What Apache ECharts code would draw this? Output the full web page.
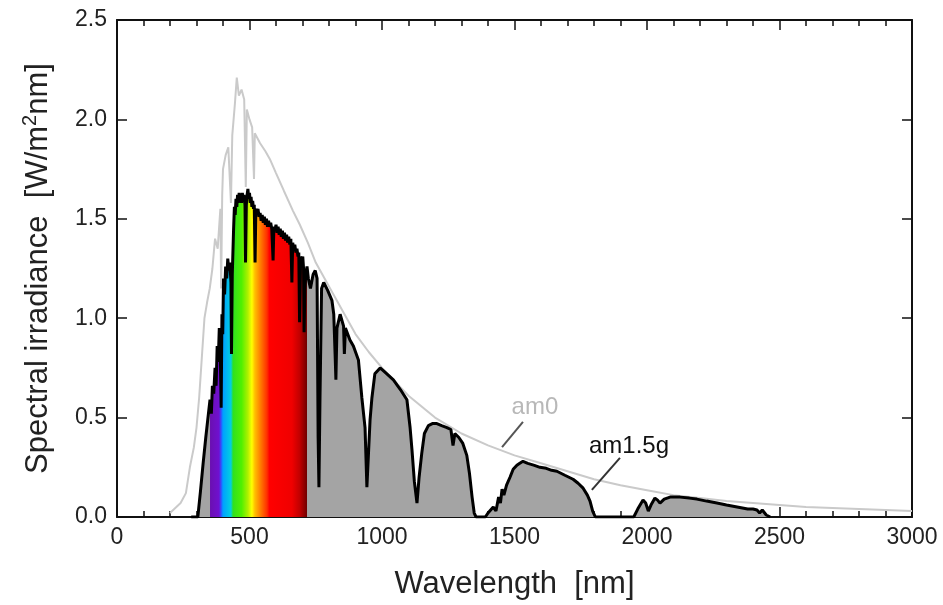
<!DOCTYPE html>
<html><head><meta charset="utf-8">
<script src="https://cdn.jsdelivr.net/npm/echarts@6/dist/echarts.min.js"></script>
<style>html,body{margin:0;padding:0;background:#fff}#c{width:943px;height:605px}</style>
</head><body><div id="c"></div>
<script>
// ---- Data (wavelength nm, spectral irradiance W/m^2/nm) ----
const am0 = [
  [200,0.02],[240,0.07],[260,0.12],[275,0.25],[290,0.35],[300,0.45],[310,0.60],[320,0.80],[330,1.00],[340,1.08],
  [350,1.15],[360,1.25],[370,1.40],[380,1.35],[390,1.55],[393,1.15],[397,1.62],[400,1.75],[410,1.82],[420,1.86],
  [430,1.58],[435,1.92],[445,2.08],[452,2.21],[460,2.12],[470,2.15],[480,2.10],[486,1.66],[490,2.05],[500,2.00],
  [510,1.96],[517,1.70],[520,1.93],[540,1.88],[560,1.84],[577,1.80],[600,1.73],[630,1.64],[664,1.54],[690,1.47],
  [720,1.38],[750,1.28],[800,1.16],[850,1.04],[900,0.92],[950,0.83],[1000,0.75],[1100,0.61],[1200,0.50],[1300,0.42],
  [1400,0.36],[1500,0.31],[1600,0.27],[1700,0.23],[1800,0.19],[1900,0.16],[2000,0.135],[2100,0.11],[2200,0.095],
  [2300,0.08],[2400,0.07],[2500,0.06],[2600,0.05],[2700,0.045],[2800,0.04],[2900,0.035],[3000,0.03]
];
const am15g = [
  [280,0],[305,0],[315,0.13],[325,0.27],[335,0.40],[345,0.52],[351,0.59],[356,0.52],[360,0.66],[365,0.62],
  [370,0.75],[374,0.66],[378,0.86],[382,0.78],[386,0.95],[390,0.82],[393,0.55],[396,1.02],[399,0.92],[402,1.20],
  [406,1.12],[410,1.26],[414,1.20],[418,1.30],[422,1.24],[426,1.28],[430,1.18],[432,0.82],[435,1.22],[440,1.45],
  [443,1.56],[446,1.52],[449,1.60],[452,1.56],[455,1.62],[458,1.58],[461,1.63],[464,1.59],[467,1.62],[470,1.58],
  [473,1.63],[476,1.60],[479,1.62],[483,1.57],[485,1.28],[488,1.57],[491,1.62],[494,1.65],[497,1.60],[500,1.63],
  [503,1.58],[506,1.61],[509,1.56],[512,1.59],[515,1.55],[518,1.57],[521,1.28],[524,1.55],[528,1.52],[532,1.55],
  [536,1.51],[540,1.53],[544,1.49],[548,1.52],[552,1.48],[556,1.51],[560,1.47],[564,1.50],[568,1.46],[572,1.49],
  [576,1.46],[580,1.48],[584,1.45],[589,1.29],[592,1.46],[596,1.44],[600,1.47],[604,1.43],[608,1.46],[612,1.42],
  [616,1.45],[620,1.41],[624,1.44],[628,1.40],[632,1.43],[636,1.39],[640,1.42],[644,1.38],[648,1.41],[652,1.37],
  [656,1.40],[660,1.18],[663,1.38],[667,1.35],[671,1.37],[675,1.33],[679,1.35],[683,1.31],[686,1.33],[689,0.98],
  [693,1.31],[697,1.28],[701,1.31],[704,1.25],[706,0.93],[709,1.15],[712,1.22],[717,1.26],[722,1.20],[730,1.15],
  [740,1.22],[748,1.24],[755,1.20],[759,0.40],[762,0.15],[766,0.60],[772,1.15],[780,1.18],[795,1.14],[811,1.09],
  [818,1.02],[823,0.82],[826,0.69],[830,0.95],[842,1.02],[855,0.96],[858,0.82],[862,0.95],[879,0.89],[892,0.86],
  [911,0.79],[924,0.60],[936,0.45],[943,0.15],[955,0.49],[962,0.60],[973,0.72],[993,0.75],[1010,0.73],[1043,0.69],
  [1070,0.64],[1094,0.59],[1106,0.45],[1113,0.34],[1122,0.18],[1132,0.07],[1140,0.20],[1150,0.32],[1160,0.42],[1175,0.46],
  [1190,0.47],[1207,0.47],[1225,0.46],[1245,0.45],[1260,0.44],[1268,0.36],[1275,0.42],[1290,0.40],[1305,0.37],[1320,0.31],
  [1330,0.22],[1340,0.10],[1348,0.02],[1355,0],[1390,0],[1400,0.02],[1420,0.05],[1430,0.03],[1440,0.10],[1447,0.07],
  [1453,0.14],[1460,0.11],[1470,0.16],[1483,0.20],[1495,0.24],[1509,0.26],[1520,0.27],[1532,0.28],[1550,0.27],[1575,0.26],
  [1596,0.25],[1620,0.245],[1640,0.235],[1660,0.23],[1690,0.21],[1721,0.19],[1740,0.17],[1759,0.145],[1775,0.11],[1785,0.08],
  [1795,0.03],[1805,0],[1950,0],[1965,0.04],[1985,0.085],[1995,0.07],[2005,0.03],[2015,0.06],[2030,0.095],[2040,0.085],
  [2049,0.07],[2065,0.09],[2087,0.10],[2125,0.10],[2160,0.095],[2188,0.09],[2225,0.08],[2264,0.07],[2300,0.06],[2340,0.05],
  [2380,0.04],[2400,0.04],[2415,0.035],[2425,0.02],[2435,0.035],[2450,0.01],[2465,0]
];
const visibleRange = [351, 717];
const rainbow = [
  [351,'#6a10b0'],[385,'#7010d0'],[393,'#3050ff'],[400,'#00a0ff'],[430,'#00d0e0'],[438,'#30e020'],
  [470,'#50f000'],[494,'#b0f000'],[509,'#ffff00'],[520,'#ffc000'],[540,'#ff8000'],[566,'#ff3000'],
  [575,'#ff0000'],[660,'#f00000'],[690,'#c00000'],[717,'#700000']
];
const xRange = [0, 3000], xStep = 500;
const yRange = [0, 2.5], yStep = 0.5;
const labels = [
  {text:'am0', color:'#b8b8b8', at:[1577,0.553], line:[[1532,0.478],[1453,0.352]], lineColor:'#555'},
  {text:'am1.5g', color:'#111', at:[1932,0.357], line:[[1898,0.297],[1792,0.136]], lineColor:'#333'}
];

const FONT = '"Liberation Sans", Arial, sans-serif';
const chart = echarts.init(document.getElementById('c'), null, {renderer:'canvas'});
const visibleData = am15g.filter(p => p[0] >= visibleRange[0] && p[0] <= visibleRange[1]);
const span = visibleRange[1] - visibleRange[0];
const gradient = new echarts.graphic.LinearGradient(0, 0, 1, 0,
  rainbow.map(r => ({offset: (r[0] - visibleRange[0]) / span, color: r[1]})));

const tickCommon = {
  axisLine: {show: true, onZero: false, lineStyle: {color: '#111', width: 2}},
  axisTick: {show: true, inside: true, length: 10, lineStyle: {color: '#111', width: 1.5}},
  splitLine: {show: false}
};
const xBase = Object.assign({type: 'value', min: xRange[0], max: xRange[1], interval: xStep,
  minorTick: {show: true, splitNumber: 5, length: 6, lineStyle: {color: '#111', width: 1.5}}}, tickCommon);
const yBase = Object.assign({type: 'value', min: yRange[0], max: yRange[1], interval: yStep}, tickCommon);

chart.setOption({
  animation: false,
  backgroundColor: '#fff',
  grid: {left: 117, right: 31, top: 20, bottom: 88, containLabel: false},
  xAxis: [
    Object.assign({}, xBase, {position: 'bottom',
      axisLabel: {fontSize: 23, color: '#222', fontFamily: FONT, margin: 9, formatter: v => String(v)}}),
    Object.assign({}, xBase, {position: 'top', axisLabel: {show: false}})
  ],
  yAxis: [
    Object.assign({}, yBase, {position: 'left',
      axisLabel: {fontSize: 23, color: '#222', fontFamily: FONT, margin: 10, formatter: v => v.toFixed(1)}}),
    Object.assign({}, yBase, {position: 'right', axisLabel: {show: false}})
  ],
  series: [
    {type: 'line', name: 'am1.5g fill', data: am15g, showSymbol: false, z: 1,
      lineStyle: {width: 0}, areaStyle: {color: '#a4a4a4', opacity: 1}},
    {type: 'line', name: 'visible', data: visibleData, showSymbol: false, z: 2,
      lineStyle: {width: 0}, areaStyle: {color: gradient, opacity: 1}},
    {type: 'line', name: 'am0', data: am0, showSymbol: false, z: 3,
      lineStyle: {color: '#cacaca', width: 2}},
    {type: 'line', name: 'am1.5g', data: am15g, showSymbol: false, z: 4,
      lineStyle: {color: '#000', width: 3}}
  ]
});

const g = [];
labels.forEach(l => {
  const p = chart.convertToPixel({gridIndex: 0}, l.at);
  const a = chart.convertToPixel({gridIndex: 0}, l.line[0]);
  const b = chart.convertToPixel({gridIndex: 0}, l.line[1]);
  g.push({type: 'text', x: p[0], y: p[1], z: 10,
    style: {text: l.text, fill: l.color, font: '24px ' + FONT, align: 'center', verticalAlign: 'middle'}});
  g.push({type: 'line', z: 10, shape: {x1: a[0], y1: a[1], x2: b[0], y2: b[1]},
    style: {stroke: l.lineColor, lineWidth: 2}});
});
const gl = chart.getModel().getComponent('grid').coordinateSystem.getRect();
g.push({type: 'text', x: 38, y: gl.y + gl.height / 2, rotation: Math.PI / 2, z: 10,
  style: {text: 'Spectral irradiance  [W/m{sup|2}nm]', fill: '#222', fontSize: 31, fontFamily: FONT,
    align: 'center', verticalAlign: 'middle', lineHeight: 36,
    rich: {sup: {fontSize: 20, fontFamily: FONT, fill: '#222', verticalAlign: 'top', lineHeight: 36}}}});
g.push({type: 'text', x: gl.x + gl.width / 2, y: 584, z: 10,
  style: {text: 'Wavelength  [nm]', fill: '#222', fontSize: 31, fontFamily: FONT,
    align: 'center', verticalAlign: 'middle'}});
chart.setOption({graphic: g});
</script></body></html>
